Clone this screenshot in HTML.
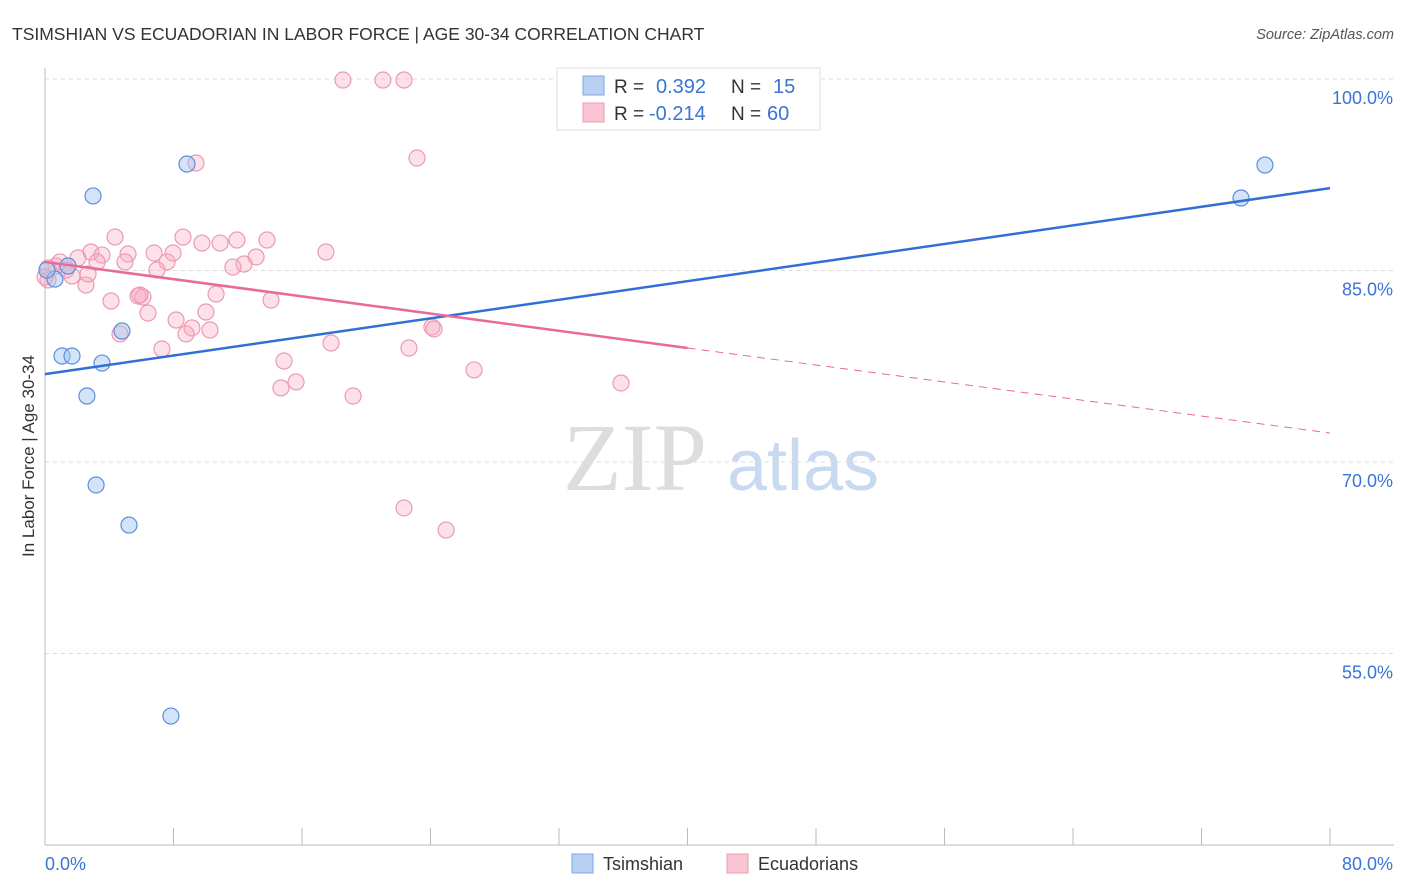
<!DOCTYPE html>
<html><head><meta charset="utf-8"><style>
body{margin:0;background:#fff;font-family:"Liberation Sans",sans-serif;}
</style></head><body>
<svg id="chart" width="1406" height="892" xmlns="http://www.w3.org/2000/svg" style="display:block">
<text x="12" y="40" font-size="17.5" fill="#333">TSIMSHIAN VS ECUADORIAN IN LABOR FORCE | AGE 30-34 CORRELATION CHART</text>
<text x="1394" y="39" font-size="14.5" fill="#555" font-style="italic" text-anchor="end">Source: ZipAtlas.com</text>
<text transform="translate(34,456) rotate(-90)" font-size="17" fill="#333" text-anchor="middle">In Labor Force | Age 30-34</text>
<g>
<text x="635" y="490" font-size="96" fill="#ddd" font-family="Liberation Serif,serif" text-anchor="middle">ZIP</text>
<text x="803" y="490" font-size="72" fill="#c9d9f0" text-anchor="middle">atlas</text>
</g>
<g id="grid"></g><g id="axes"></g><g id="marks"></g>
<g>
<rect x="557" y="68" width="263" height="62" fill="#fff" stroke="#ddd"/>
<rect x="583" y="76" width="21" height="19" fill="#b8d1f3" stroke="#7aa7e6"/>
<rect x="583" y="103" width="21" height="19" fill="#f9c5d3" stroke="#ee99b3"/>
<text x="614" y="93" font-size="19" fill="#333">R =</text><text x="656" y="93" font-size="20" fill="#3a74d6">0.392</text>
<text x="731" y="93" font-size="19" fill="#333">N =</text><text x="773" y="93" font-size="20" fill="#3a74d6">15</text>
<text x="614" y="120" font-size="19" fill="#333">R =</text><text x="649" y="120" font-size="20" fill="#3a74d6">-0.214</text>
<text x="731" y="120" font-size="19" fill="#333">N =</text><text x="767" y="120" font-size="20" fill="#3a74d6">60</text>
</g>
<g>
<rect x="572" y="854" width="21" height="19" fill="#b8d1f3" stroke="#7aa7e6"/>
<text x="603" y="870" font-size="18" fill="#333">Tsimshian</text>
<rect x="727" y="854" width="21" height="19" fill="#f9c5d3" stroke="#ee99b3"/>
<text x="758" y="870" font-size="18" fill="#333">Ecuadorians</text>
</g>
</svg>
<script>
const yTicks=[100,85,70,55];
const yTickLabels=["100.0%","85.0%","70.0%","55.0%"];
const xTickLabels=["0.0%","80.0%"];
const blueX=[0.62,1.43,2.99,8.84,1.06,1.68,3.55,4.79,2.61,3.18,5.23,7.84,74.46,75.95,0.12];
const blueY=[84.33,85.35,90.84,93.34,78.30,78.30,77.75,80.26,75.17,68.20,65.06,50.10,90.68,93.26,85.04];
const pinkX=[18.55,21.04,22.35,23.16,9.40,4.36,8.59,9.77,10.90,11.95,13.82,17.49,2.86,6.79,7.97,13.14,2.05,3.55,5.17,0.93,0.19,1.31,3.24,4.98,7.60,12.39,11.70,6.97,1.68,2.55,10.65,5.79,6.10,4.11,14.07,6.41,10.02,8.16,9.15,4.67,8.78,10.27,24.09,24.22,17.81,22.66,7.28,14.88,26.71,15.63,14.69,35.86,19.18,22.35,24.97,0.19,0.68,2.68,5.91,0.0];
const pinkY=[99.92,99.92,99.92,93.81,93.42,87.62,87.62,87.15,87.15,87.39,87.39,86.45,86.45,86.37,86.37,86.06,85.98,86.21,86.29,85.67,85.20,85.04,85.67,85.67,85.67,85.51,85.27,85.04,84.57,83.86,83.16,83.00,82.92,82.61,82.69,81.67,81.75,81.12,80.50,80.03,80.03,80.34,80.57,80.42,79.32,78.93,78.85,77.91,77.21,76.27,75.80,76.19,75.17,66.40,64.67,84.26,85.35,84.73,83.08,84.5];
const blueTrendX=[0,80], blueTrendY=[76.88,91.45];
const pinkTrendX=[0,40,80], pinkTrendY=[85.67,78.93,72.27];
const NS="http://www.w3.org/2000/svg";
const X=v=>45+v/80*1285, Y=v=>79+(100-v)/15*191.5;
function mk(t,a,p){const e=document.createElementNS(NS,t);for(const k in a)e.setAttribute(k,a[k]);p.appendChild(e);return e;}
const grid=document.getElementById('grid'),axes=document.getElementById('axes'),marks=document.getElementById('marks');
yTicks.forEach((t,i)=>{
 const l=mk('line',{x1:45,x2:1394,y1:Y(t),y2:Y(t),stroke:'#ddd','stroke-dasharray':'4,4'},grid);
 
 const tx=mk('text',{x:1393,y:Y(t)+25,'font-size':18,fill:'#3a74d6','text-anchor':'end'},axes);
 tx.textContent=yTickLabels[i];
});
const ax=mk('line',{x1:45,x2:45,y1:68,y2:845,stroke:'#bbb'},axes);
const bx=mk('line',{x1:45,x2:1394,y1:845,y2:845,stroke:'#bbb'},axes);
for(let i=0;i<=10;i++){const t=mk('line',{x1:X(i*8),x2:X(i*8),y1:828,y2:845,stroke:'#bbb'},axes);}
[[0,'start',45],[1,'end',1393]].forEach(([i,a,x])=>{const t=mk('text',{x:x,y:870,'font-size':18,fill:'#3a74d6','text-anchor':a},axes);t.textContent=xTickLabels[i];});
pinkX.forEach((v,i)=>{const c=mk('circle',{cx:X(v),cy:Y(pinkY[i]),r:8,fill:'rgba(246,170,192,0.35)',stroke:'#eb9ab2','stroke-width':1.2},marks);});
blueX.forEach((v,i)=>{const c=mk('circle',{cx:X(v),cy:Y(blueY[i]),r:8,fill:'rgba(160,195,240,0.45)',stroke:'#5b8fdc','stroke-width':1.2},marks);});
const bl=mk('line',{x1:X(blueTrendX[0]),y1:Y(blueTrendY[0]),x2:X(blueTrendX[1]),y2:Y(blueTrendY[1]),stroke:'#2f6fd6','stroke-width':2.5},marks);
const pl=mk('line',{x1:X(pinkTrendX[0]),y1:Y(pinkTrendY[0]),x2:X(pinkTrendX[1]),y2:Y(pinkTrendY[1]),stroke:'#e8699a','stroke-width':2.5},marks);
const pd=mk('line',{x1:X(pinkTrendX[1]),y1:Y(pinkTrendY[1]),x2:X(pinkTrendX[2]),y2:Y(pinkTrendY[2]),stroke:'#e8699a','stroke-width':1,'stroke-dasharray':'8,6'},marks);
</script>
</body></html>
